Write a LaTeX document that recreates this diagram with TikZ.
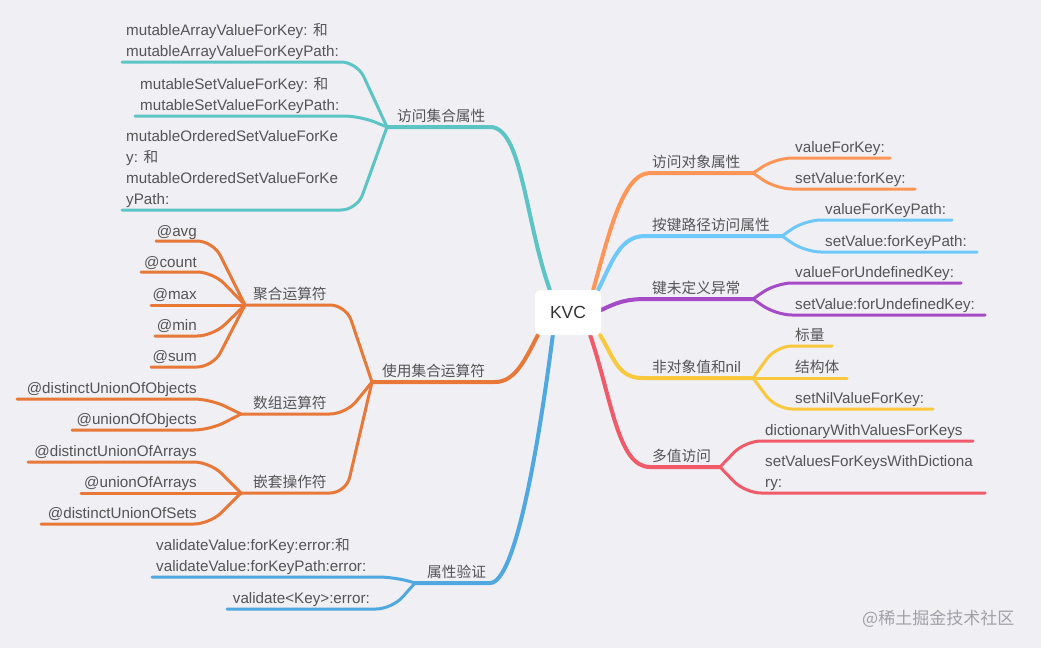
\documentclass[tikz,border=0pt]{standalone}
\usepackage{fontspec}
\setmainfont{Liberation Sans}
\newfontfamily\cjk[Scale=0.967]{Noto Sans CJK SC}
\newfontfamily\wmfont{Noto Sans CJK SC}
\usetikzlibrary{calc}
\definecolor{bgc}{RGB}{239,239,244}
\definecolor{txtc}{RGB}{85,85,85}
\definecolor{kvcc}{RGB}{51,51,51}
\definecolor{wmc}{RGB}{160,160,168}
\definecolor{cTeal}{RGB}{92,196,196}
\definecolor{cOrD}{RGB}{232,120,56}
\definecolor{cBlue}{RGB}{80,168,224}
\definecolor{cOrL}{RGB}{255,150,88}
\definecolor{cLBlue}{RGB}{110,200,250}
\definecolor{cPurp}{RGB}{165,75,200}
\definecolor{cYel}{RGB}{250,200,60}
\definecolor{cRed}{RGB}{240,90,105}
\newcommand\mlines[1]{\begin{tabular}[b]{@{}l@{}}#1\end{tabular}}
\pgfdeclarelayer{back}\pgfdeclarelayer{lines}\pgfsetlayers{back,lines,main}
\begin{document}
\begin{tikzpicture}[x=1pt,y=-1pt,
  lt/.style={inner sep=0pt, text=txtc, font=\fontsize{15.2}{20.8}\selectfont},
  tw/.style={lt, anchor=base west},
  te/.style={lt, anchor=base east},
  br/.style={line width=4pt, line cap=round},
  lf/.style={line width=3pt, line cap=round, rounded corners=16pt}]
\begin{pgfonlayer}{back}
\fill[bgc] (0,0) rectangle (1041,648);
\end{pgfonlayer}
\useasboundingbox (0,0) rectangle (1041,648);

% central node
\node[fill=white, rounded corners=6pt, minimum width=66pt, minimum height=45pt,
  inner sep=0pt, text=kvcc, font=\fontsize{17.5}{20}\selectfont] (kvc) at (568,312.5) {KVC};
\coordinate (sTeal) at ($(kvc.north west)+(15,0)$);
\coordinate (sOrL) at ($(kvc.north east)+(-8,0)$);
\coordinate (sLBlue) at ($(kvc.north east)+(-3,0)$);
\coordinate (sPurp) at ($(kvc.east)+(0,-2.5)$);
\coordinate (sYel) at ($(kvc.south east)+(-1,0)$);
\coordinate (sRed) at ($(kvc.south east)+(-11,0)$);
\coordinate (sOrD) at ($(kvc.south west)+(3,0)$);
\coordinate (sBlue) at ($(kvc.south west)+(18,0)$);

% ---------- left: teal ----------
\node[tw] (t1) at (397,121) {\cjk 访问集合属性};
\coordinate (t1L) at (387,127);
\node[tw] (l11) at (126,56) {\mlines{mutableArrayValueForKey: {\cjk 和}\\mutableArrayValueForKeyPath:}};
\coordinate (l11L) at (122,62);
\node[tw] (l12) at (140,110) {\mlines{mutableSetValueForKey: {\cjk 和}\\mutableSetValueForKeyPath:}};
\coordinate (l12L) at (135,116);
\node[tw] (l13) at (126,204) {\mlines{mutableOrderedSetValueForKe\\y: {\cjk 和}\\mutableOrderedSetValueForKe\\yPath:}};
\coordinate (l13L) at (122,210);

% ---------- left: dark orange ----------
\node[tw] (t2) at (382,376) {\cjk 使用集合运算符};
\coordinate (t2L) at (372,382);
\node[tw] (g1) at (253,299) {\cjk 聚合运算符};
\coordinate (g1L) at (245,305);
\node[tw] (g2) at (253,408) {\cjk 数组运算符};
\coordinate (g2L) at (241,414);
\node[tw] (g3) at (253,487) {\cjk 嵌套操作符};
\coordinate (g3L) at (241,493);
\node[te] (a1) at (197,236) {@avg};            \coordinate (a1L) at (156,241);
\node[te] (a2) at (197,267) {@count};          \coordinate (a2L) at (141,272);
\node[te] (a3) at (197,299) {@max};            \coordinate (a3L) at (151,305);
\node[te] (a4) at (197,330) {@min};            \coordinate (a4L) at (155,336);
\node[te] (a5) at (197,361) {@sum};            \coordinate (a5L) at (151,367);
\node[te] (b1) at (197,393) {@distinctUnionOfObjects}; \coordinate (b1L) at (17,399);
\node[te] (b2) at (197,424) {@unionOfObjects}; \coordinate (b2L) at (72,430);
\node[te] (c1) at (197,456) {@distinctUnionOfArrays};  \coordinate (c1L) at (28,462);
\node[te] (c2) at (197,487) {@unionOfArrays};  \coordinate (c2L) at (81,493);
\node[te] (c3) at (197,518) {@distinctUnionOfSets};    \coordinate (c3L) at (41,524);

% ---------- left: blue ----------
\node[tw] (t3) at (427,577) {\cjk 属性验证};
\coordinate (t3L) at (415,583);
\node[tw] (l31) at (156,571) {\mlines{validateValue:forKey:error:{\cjk 和}\\validateValue:forKeyPath:error:}};
\coordinate (l31L) at (152,577);
\node[te] (l32) at (370,603) {validate<Key>:error:};
\coordinate (l32L) at (227,609);

% ---------- right ----------
\node[tw] (r1) at (652,167) {\cjk 访问对象属性};
\coordinate (r1R) at (753,173);
\node[tw] (r11) at (795,152) {valueForKey:};      \coordinate (r11R) at (890,158);
\node[tw] (r12) at (795,183) {setValue:forKey:};  \coordinate (r12R) at (915,189);

\node[tw] (r2) at (652,230) {\cjk 按键路径访问属性};
\coordinate (r2R) at (782,236);
\node[tw] (r21) at (825,214) {valueForKeyPath:};     \coordinate (r21R) at (952,220);
\node[tw] (r22) at (825,246) {setValue:forKeyPath:}; \coordinate (r22R) at (977,252);

\node[tw] (r3) at (652,293) {\cjk 键未定义异常};
\coordinate (r3R) at (753,299);
\node[tw] (r31) at (795,277) {valueForUndefinedKey:};     \coordinate (r31R) at (961,283);
\node[tw] (r32) at (795,309) {setValue:forUndefinedKey:}; \coordinate (r32R) at (985,315);

\node[tw] (r4) at (652,372) {{\cjk 非对象值和}nil};
\coordinate (r4R) at (753,378);
\node[tw] (r41) at (795,340) {\cjk 标量};             \coordinate (r41R) at (832,346);
\node[tw] (r42) at (795,372) {\cjk 结构体};           \coordinate (r42R) at (847,378);
\node[tw] (r43) at (795,403) {setNilValueForKey:};   \coordinate (r43R) at (933,409);

\node[tw] (r5) at (652,461) {\cjk 多值访问};
\coordinate (r5R) at (720,467);
\node[tw] (r51) at (765,435) {dictionaryWithValuesForKeys}; \coordinate (r51R) at (973,441);
\node[tw] (r52) at (765,487) {\mlines{setValuesForKeysWithDictiona\\ry:}}; \coordinate (r52R) at (985,493);

% watermark
\node[anchor=base west, inner sep=0pt, text=wmc, font=\wmfont\fontsize{17}{17}\selectfont] (wm) at (862,624) {@稀土掘金技术社区};

\begin{pgfonlayer}{lines}
% main branches
\draw[br,cTeal] (sTeal) .. controls (525,220) and (522,127) .. (490,127) -- (t1L);
\draw[br,cOrD] (sOrD) .. controls (525,360) and (515,382) .. (495,382) -- (t2L);
\draw[br,cBlue] (sBlue) .. controls (538,450) and (515,583) .. (490,583) -- (t3L);
\draw[br,cOrL] (sOrL) .. controls (608,238) and (622,173) .. (650,173) -- (r1R);
\draw[br,cLBlue] (sLBlue) .. controls (612,262) and (620,236) .. (645,236) -- (r2R);
\draw[br,cPurp] (sPurp) .. controls (620,301) and (628,299) .. (648,299) -- (r3R);
\draw[br,cYel] (sYel) .. controls (614,358) and (618,378) .. (642,378) -- (r4R);
\draw[br,cRed] (sRed) .. controls (612,400) and (618,467) .. (650,467) -- (r5R);

% teal leaves
\draw[lf,cTeal] (t1L) -- (357,62) -- (l11L);
\draw[lf,cTeal] (t1L) -- (360,116) -- (l12L);
\draw[lf,cTeal] (t1L) -- (357,210) -- (l13L);

% dark orange
\draw[lf,cOrD] (t2L) -- (346,305) -- (g1L);
\draw[lf,cOrD] (t2L) -- (346,414) -- (g2L);
\draw[lf,cOrD] (t2L) -- (346,493) -- (g3L);
\draw[lf,cOrD] (g1L) -- (213,241) -- (a1L);
\draw[lf,cOrD] (g1L) -- (213,272) -- (a2L);
\draw[lf,cOrD] (g1L) -- (a3L);
\draw[lf,cOrD] (g1L) -- (213,336) -- (a4L);
\draw[lf,cOrD] (g1L) -- (213,367) -- (a5L);
\draw[lf,cOrD] (g2L) -- (210,399) -- (b1L);
\draw[lf,cOrD] (g2L) -- (210,430) -- (b2L);
\draw[lf,cOrD] (g3L) -- (210,462) -- (c1L);
\draw[lf,cOrD] (g3L) -- (c2L);
\draw[lf,cOrD] (g3L) -- (210,524) -- (c3L);

% blue
\draw[lf,cBlue] (t3L) -- (395,577) -- (l31L);
\draw[lf,cBlue] (t3L) -- (392,609) -- (l32L);

% right leaves
\draw[lf,cOrL] (r1R) -- (776,158) -- (r11R);
\draw[lf,cOrL] (r1R) -- (776,189) -- (r12R);
\draw[lf,cLBlue] (r2R) -- (805,220) -- (r21R);
\draw[lf,cLBlue] (r2R) -- (805,252) -- (r22R);
\draw[lf,cPurp] (r3R) -- (776,283) -- (r31R);
\draw[lf,cPurp] (r3R) -- (776,315) -- (r32R);
\draw[lf,cYel] (r4R) -- (776,346) -- (r41R);
\draw[lf,cYel] (r4R) -- (r42R);
\draw[lf,cYel] (r4R) -- (776,409) -- (r43R);
\draw[lf,cRed] (r5R) -- (745,441) -- (r51R);
\draw[lf,cRed] (r5R) -- (745,493) -- (r52R);
\end{pgfonlayer}
\end{tikzpicture}
\end{document}
